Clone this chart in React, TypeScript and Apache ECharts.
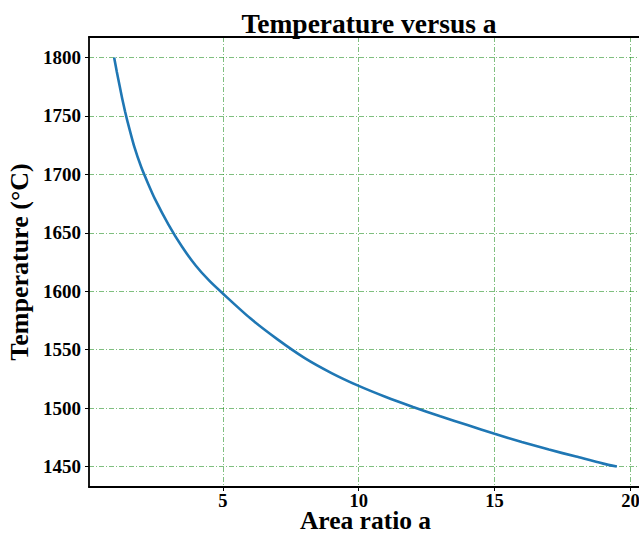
import React, { useEffect, useRef } from "react";
import * as echarts from "echarts";

const areaRatio = [1, 1.1, 1.2, 1.3, 1.4, 1.5, 1.75, 2, 2.25, 2.5, 3, 3.5, 4, 4.5, 5, 6, 7, 8, 9, 10, 11, 12, 13, 14, 15, 16, 17, 18, 19, 19.5];
const temperature = [1800, 1787.5, 1776, 1764.5, 1754, 1744.5, 1723, 1706, 1692, 1679, 1657, 1638, 1622, 1609, 1598, 1577, 1559, 1543, 1530, 1519, 1509.5, 1501, 1493, 1485.5, 1478, 1471, 1464.5, 1458.5, 1452.5, 1450];
const xTicks = [5, 10, 15, 20];
const yTicks = [1450, 1500, 1550, 1600, 1650, 1700, 1750, 1800];

const FONT = "'Liberation Serif', 'Times New Roman', serif";

export default function App() {
  const ref = useRef<HTMLDivElement>(null);
  useEffect(() => {
    if (!ref.current) return;
    const chart = echarts.init(ref.current, undefined, { renderer: "svg" });
    const gridLine = {
      show: true,
      lineStyle: { color: "rgba(0,128,0,0.5)", width: 1, type: [5, 2, 1, 2] as any },
    };
    const plain = (v: number) => String(v);
    chart.setOption({
      animation: false,
      backgroundColor: "#ffffff",
      title: {
        text: "Temperature versus a",
        left: 364,
        textAlign: "center",
        top: 4,
        textStyle: { fontFamily: FONT, fontWeight: "bold", fontSize: 27.5, color: "#000" },
      },
      grid: { left: 89, top: 37, width: 553, height: 450, containLabel: false, outerBoundsMode: "none" },
      xAxis: [
        {
          type: "value",
          min: 0.075,
          max: 20.425,
          name: "Area ratio a",
          nameLocation: "middle",
          nameGap: 20,
          nameMoveOverlap: false,
          nameTextStyle: { fontFamily: FONT, fontWeight: "bold", fontSize: 25.5, color: "#000" },
          axisLine: { show: true, onZero: false, lineStyle: { color: "#000", width: 1.8 } },
          axisTick: { show: true, length: 4, customValues: xTicks, lineStyle: { color: "#000", width: 1 } },
          axisLabel: { customValues: xTicks, formatter: plain, fontFamily: FONT, fontWeight: "bold", fontSize: 18.5, color: "#000", margin: 4 },
          splitLine: gridLine,
        },
        {
          type: "value",
          position: "top",
          min: 0.075,
          max: 20.425,
          axisLine: { show: true, onZero: false, lineStyle: { color: "#000", width: 1.8 } },
          axisTick: { show: false },
          axisLabel: { show: false },
          splitLine: { show: false },
        },
      ],
      yAxis: [
        {
          type: "value",
          min: 1432.5,
          max: 1817.5,
          name: "Temperature (°C)",
          nameLocation: "middle",
          nameRotate: 90,
          nameGap: 56,
          nameTextStyle: { fontFamily: FONT, fontWeight: "bold", fontSize: 26, color: "#000" },
          axisLine: { show: true, onZero: false, lineStyle: { color: "#000", width: 1.8 } },
          axisTick: { show: true, length: 4, customValues: yTicks, lineStyle: { color: "#000", width: 1 } },
          axisLabel: { customValues: yTicks, formatter: plain, fontFamily: FONT, fontWeight: "bold", fontSize: 19, color: "#000", margin: 8 },
          splitLine: gridLine,
        },
        {
          type: "value",
          position: "right",
          min: 1432.5,
          max: 1817.5,
          axisLine: { show: true, onZero: false, lineStyle: { color: "#000", width: 1.8 } },
          axisTick: { show: false },
          axisLabel: { show: false },
          splitLine: { show: false },
        },
      ],
      series: [
        {
          type: "line",
          data: areaRatio.map((a, i) => [a, temperature[i]]),
          showSymbol: false,
          smooth: 0.25,
          lineStyle: { color: "#1f77b4", width: 2.6 },
          z: 5,
        },
      ],
    });
    return () => chart.dispose();
  }, []);
  return (
    <div
      ref={ref}
      style={{ position: "fixed", left: 0, top: 0, width: 639, height: 533, background: "#fff" }}
    />
  );
}
